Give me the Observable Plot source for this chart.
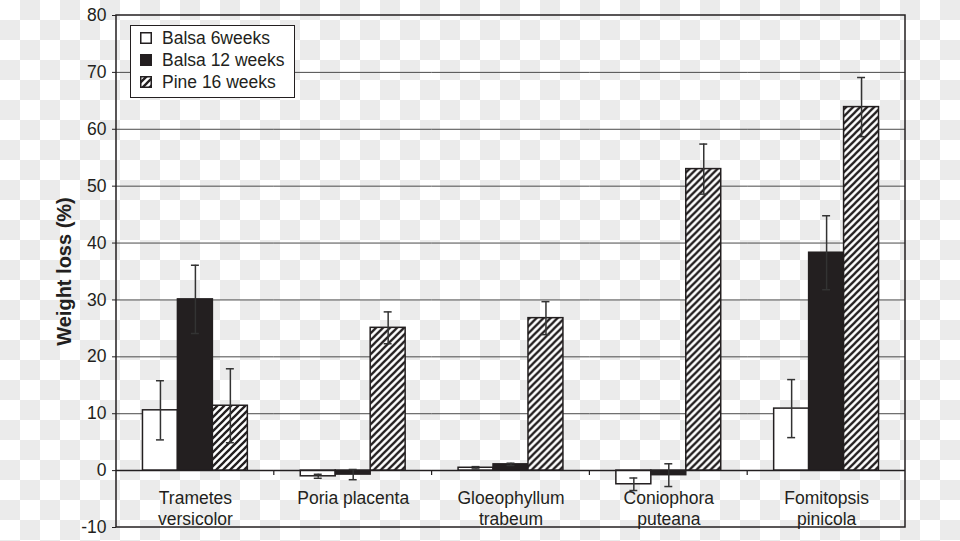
<!DOCTYPE html>
<html>
<head>
<meta charset="utf-8">
<script src="https://cdn.jsdelivr.net/npm/d3@7"></script>
<script src="https://cdn.jsdelivr.net/npm/@observablehq/plot@0.6"></script>
<style>
  html, body { margin: 0; padding: 0; }
  body {
    width: 960px; height: 541px; overflow: hidden;
    background-color: #ffffff;
    background-image: conic-gradient(#ebebeb 25%, #ffffff 0 50%, #ebebeb 0 75%, #ffffff 0);
    background-size: 40px 40px;
    font-family: "Liberation Sans", Arial, sans-serif;
  }
  #wrap { position: relative; width: 960px; height: 541px; }
  #legend {
    position: absolute; left: 130px; top: 25px; width: 165px; height: 73px;
    box-sizing: border-box; border: 1.5px solid #231f20; background: #ffffff;
    font-size: 17.5px; color: #231f20;
  }
  #legend .row { position: absolute; left: 9px; height: 22px; display: flex; align-items: center; white-space: nowrap; }
  #legend svg { margin-right: 10px; }
</style>
</head>
<body>
<div id="wrap"></div>
<script>
// ---- data ----
const species = ["Trametes\nversicolor", "Poria placenta", "Gloeophyllum\ntrabeum", "Coniophora\nputeana", "Fomitopsis\npinicola"];
const series = ["Balsa 6weeks", "Balsa 12 weeks", "Pine 16 weeks"];
const balsa6 = [10.6, -1.0, 0.5, -2.4, 10.9];
const balsa6Err = [5.2, 0.35, 0.2, 1.1, 5.1];
const balsa12 = [30.1, -0.7, 1.1, -0.8, 38.3];
const balsa12Err = [6.0, 0.9, 0.2, 2.0, 6.5];
const pine16 = [11.4, 25.1, 26.8, 53.0, 63.9];
const pine16Err = [6.5, 2.8, 2.9, 4.4, 5.2];
const yTicks = [-10, 0, 10, 20, 30, 40, 50, 60, 70, 80];
const yLabel = "Weight loss (%)";

const fills = ["#ffffff", "#231f20", "url(#hatch)"];
const ink = "#231f20";

const values = [balsa6, balsa12, pine16];
const errs = [balsa6Err, balsa12Err, pine16Err];
const rows = [];
species.forEach((s, i) => series.forEach((k, j) => rows.push({species: s, series: k, value: values[j][i], err: errs[j][i]})));

const plot = Plot.plot({
  width: 960, height: 541,
  marginLeft: 116, marginRight: 55, marginTop: 15, marginBottom: 14,
  style: {background: "transparent", fontFamily: "'Liberation Sans', Arial, sans-serif", fontSize: "17.5px", color: ink},
  fx: {domain: species, padding: 0, label: null, round: false},
  x: {domain: series, paddingInner: 0, paddingOuter: 0.757, axis: null, round: false},
  y: {domain: [-10, 80]},
  color: {domain: series, range: fills},
  marks: [
    Plot.ruleY(yTicks.filter(t => t > -10 && t < 80 && t !== 0), {stroke: "#4a4a4a", strokeWidth: 1}),
    Plot.barY(rows, {fx: "species", x: "series", y: "value", fill: "series", stroke: ink, strokeWidth: 1.5}),
    Plot.ruleY([0], {stroke: ink, strokeWidth: 1.5}),
    Plot.ruleX(rows, {fx: "species", x: "series", y1: d => d.value - d.err, y2: d => d.value + d.err, stroke: "#333", strokeWidth: 1.5}),
    Plot.tickY(rows, {fx: "species", x: "series", y: d => d.value - d.err, insetLeft: 13.5, insetRight: 13.5, stroke: "#333", strokeWidth: 1.5}),
    Plot.tickY(rows, {fx: "species", x: "series", y: d => d.value + d.err, insetLeft: 13.5, insetRight: 13.5, stroke: "#333", strokeWidth: 1.5}),
    Plot.axisY({ticks: yTicks, tickFormat: d => String(d), tickSize: 4, tickPadding: 6, label: yLabel, labelAnchor: "center", labelArrow: "none", labelOffset: 60}),
    Plot.axisFx({anchor: "bottom", tickSize: 0, tickPadding: 0, dy: -38, lineHeight: 1.2, label: null})
  ]
});

const svgEl = plot.tagName.toLowerCase() === "svg" ? plot : plot.querySelector("svg");
const svg = d3.select(svgEl);

// hatch pattern
const defs = svg.insert("defs", ":first-child");
const pat = defs.append("pattern").attr("id", "hatch").attr("patternUnits", "userSpaceOnUse").attr("width", 7).attr("height", 7);
pat.append("rect").attr("width", 7).attr("height", 7).attr("fill", "#ffffff");
pat.append("path").attr("d", "M-1,1 L1,-1 M0,7 L7,0 M6,8 L8,6").attr("stroke", ink).attr("stroke-width", 2.3);

// frame + group ticks on the zero line
const fx = plot.scale("fx");
const y = plot.scale("y");
const [fx0, fx1] = fx.range;
const [yb, yt] = y.range;
svg.append("rect").attr("x", fx0).attr("y", yt).attr("width", fx1 - fx0).attr("height", yb - yt)
  .attr("fill", "none").attr("stroke", ink).attr("stroke-width", 1.5);
const y0 = y.apply(0);
species.forEach((s, i) => {
  if (i === 0) return;
  const xs = fx.apply(s);
  svg.append("line").attr("x1", xs).attr("x2", xs).attr("y1", y0).attr("y2", y0 + 5).attr("stroke", ink).attr("stroke-width", 1.2);
});
svg.selectAll('g[aria-label="y-axis label"] text').attr("font-weight", "bold").attr("font-size", "20px");

document.getElementById("wrap").appendChild(plot);

// legend
const legend = document.createElement("div");
legend.id = "legend";
const tops = [1, 23, 45];
series.forEach((k, j) => {
  const row = document.createElement("div");
  row.className = "row";
  row.style.top = tops[j] + "px";
  row.innerHTML = `<svg width="12" height="12"><rect x="0.75" y="0.75" width="10.5" height="10.5" fill="${fills[j]}" stroke="${ink}" stroke-width="1.5"/></svg><span>${k}</span>`;
  legend.appendChild(row);
});
document.getElementById("wrap").appendChild(legend);
</script>
</body>
</html>
